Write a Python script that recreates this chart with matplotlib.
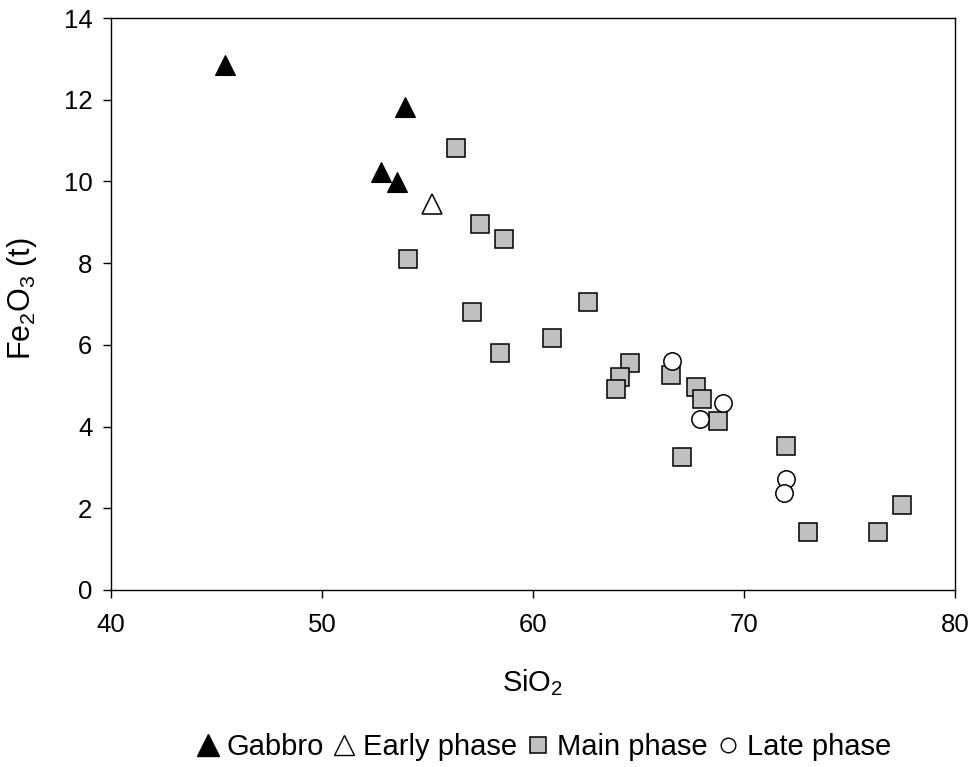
import matplotlib
matplotlib.use("Agg")
import matplotlib.pyplot as plt
from matplotlib.lines import Line2D

plt.rcParams['font.family'] = ['Liberation Sans', 'DejaVu Sans']
plt.rcParams['mathtext.default'] = 'regular'

gabbro_x = [45.42, 53.93, 52.78, 53.54]
gabbro_y = [12.85, 11.81, 10.24, 9.99]

early_x = [55.2]
early_y = [9.46]

main_x = [56.35, 57.49, 58.64, 54.09, 57.12, 58.44, 60.92, 62.62, 64.6, 64.12,
          63.93, 66.53, 67.73, 68.0, 68.78, 67.08, 71.99, 73.05, 76.37, 77.5]
main_y = [10.83, 8.97, 8.58, 8.09, 6.81, 5.79, 6.18, 7.06, 5.55, 5.21,
          4.91, 5.26, 4.96, 4.67, 4.14, 3.25, 3.53, 1.43, 1.43, 2.07]

late_x = [66.6, 68.99, 67.91, 71.99, 71.91]
late_y = [5.6, 4.57, 4.18, 2.71, 2.37]

labels = ['Gabbro', 'Early phase', 'Main phase', 'Late phase']
x_ticks = [40, 50, 60, 70, 80]
y_ticks = [0, 2, 4, 6, 8, 10, 12, 14]

fig = plt.figure(figsize=(9.74, 7.67), dpi=100)
ax = fig.add_axes([0.114, 0.2308, 0.8665, 0.7457])

ax.plot(main_x, main_y, 's', ms=12.5, mfc='#C0C0C0', mec='black', mew=1.1, ls='none', zorder=3)
ax.plot(late_x, late_y, 'o', ms=12.5, mfc='white', mec='black', mew=1.1, ls='none', zorder=4)
ax.plot(gabbro_x, gabbro_y, '^', ms=15, mfc='black', mec='black', mew=0.8, ls='none', zorder=5)
ax.plot(early_x, early_y, '^', ms=14.5, mfc='white', mec='black', mew=1.1, ls='none', zorder=5)

ax.set_xlim(40, 80)
ax.set_ylim(0, 14)
ax.set_xticks(x_ticks)
ax.set_yticks(y_ticks)
ax.tick_params(labelsize=18.5, direction='out', length=5.5, width=1)
ax.tick_params(axis='x', pad=11)
ax.tick_params(axis='y', pad=8)
for s in ax.spines.values():
    s.set_linewidth(1.0)

ax.set_xlabel('SiO$_2$', fontsize=21)
ax.xaxis.label.set_verticalalignment('center')
ax.xaxis.set_label_coords(0.5, -0.1626)
ax.set_ylabel('Fe$_2$O$_3$ (t)', fontsize=22)
ax.yaxis.label.set_verticalalignment('center')
ax.yaxis.set_label_coords(-0.1055, 0.51)

handles = [
    Line2D([], [], marker='^', ls='none', ms=16, mfc='black', mec='black'),
    Line2D([], [], marker='^', ls='none', ms=15, mfc='white', mec='black', mew=1.0),
    Line2D([], [], marker='s', ls='none', ms=11.5, mfc='#C0C0C0', mec='black', mew=1.1),
    Line2D([], [], marker='o', ls='none', ms=10.5, mfc='white', mec='black', mew=1.0),
]
fig.legend(handles, labels, loc='center', bbox_to_anchor=(0.558, 0.026), ncol=4,
           frameon=False, fontsize=21, handlelength=0.8, handletextpad=0.25,
           columnspacing=0.3, borderaxespad=0, borderpad=0)

fig.savefig('out.png', dpi=100)
